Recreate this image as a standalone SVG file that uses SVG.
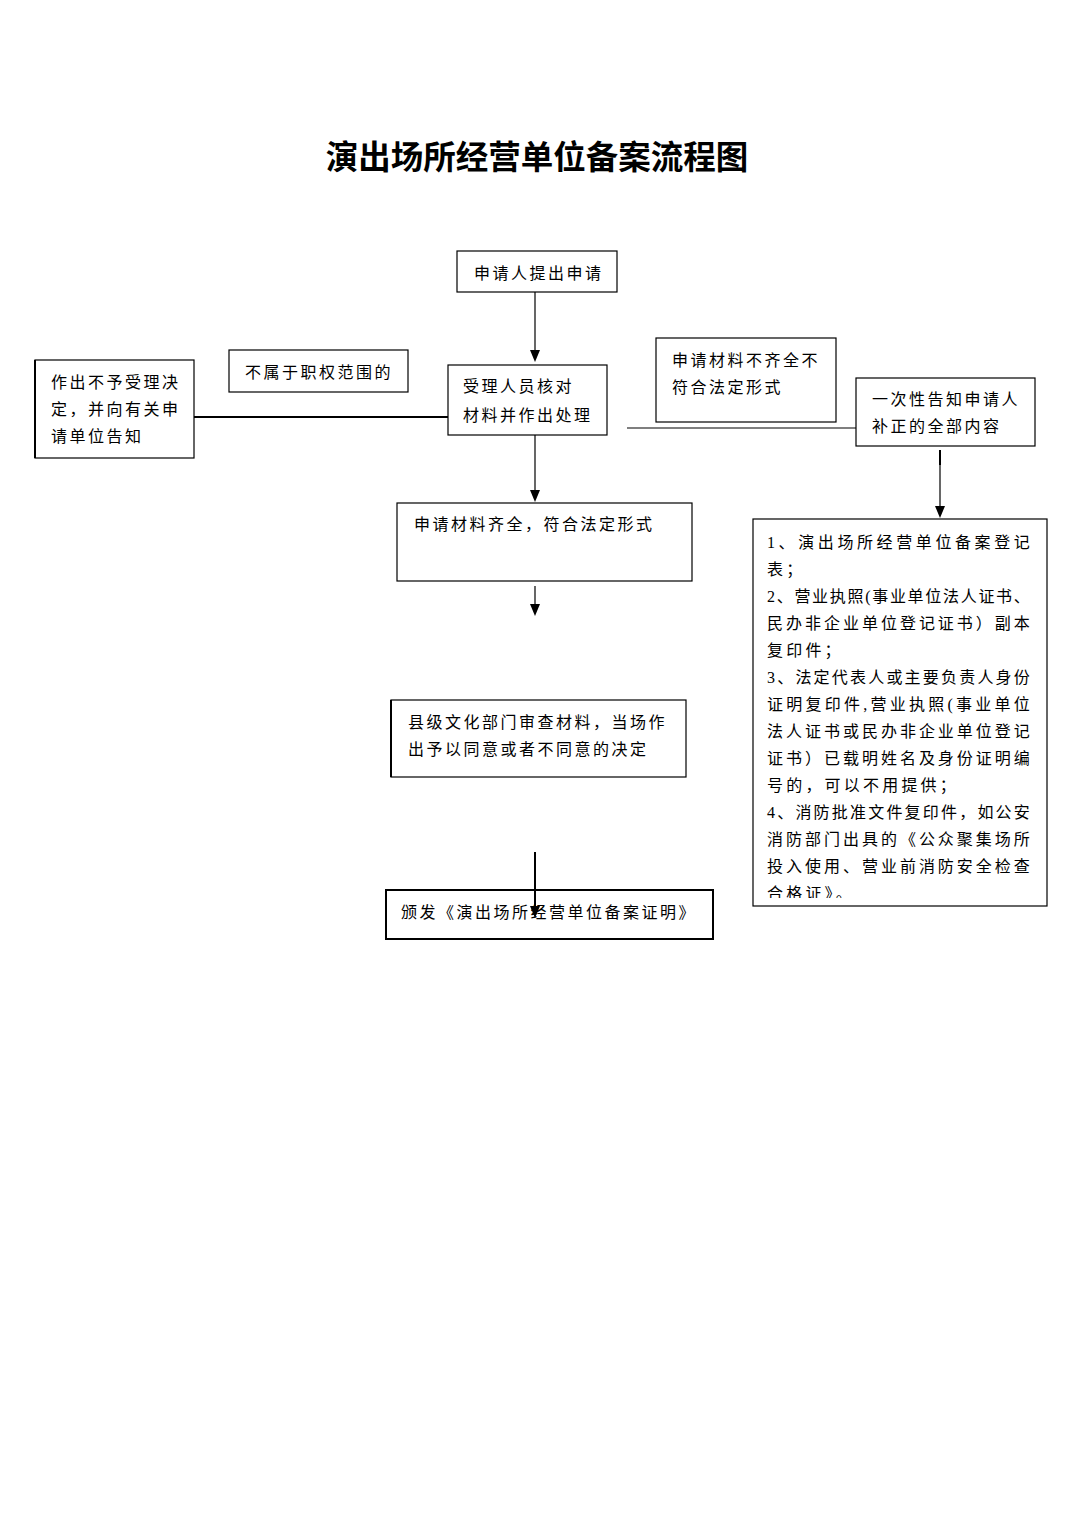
<svg xmlns="http://www.w3.org/2000/svg" width="1075" height="1520" viewBox="0 0 1075 1520">
<style>
.t{font-family:"Liberation Serif","Noto Sans CJK SC",serif;font-size:16px;letter-spacing:2.5px;fill:#000}
.l{font-family:"Liberation Serif","Noto Sans CJK SC",serif;font-size:16px;letter-spacing:3.2px;fill:#000}
.b{fill:#fff;stroke:#000;stroke-width:1.2}
.c{stroke:#000;stroke-width:1.2;fill:none}
.title{font-family:"Noto Sans CJK SC","Liberation Sans",sans-serif;font-size:32.5px;font-weight:bold;fill:#000}
</style>
<defs>
<clipPath id="clipList"><rect x="753" y="519" width="294" height="379"/></clipPath>
</defs>
<rect width="1075" height="1520" fill="#fff"/>
<text class="title" x="537" y="169" text-anchor="middle">演出场所经营单位备案流程图</text>

<g id="connectors">
<line class="c" x1="535" y1="292" x2="535" y2="350"/>
<path d="M530,350 L540,350 L535,362 Z"/>
<line x1="194" y1="417" x2="448" y2="417" stroke="#000" stroke-width="2"/>
<line class="c" x1="627" y1="428" x2="856" y2="428"/>
<line x1="940" y1="450" x2="940" y2="465" stroke="#000" stroke-width="2"/>
<line class="c" x1="940" y1="465" x2="940" y2="506"/>
<path d="M935,506 L945,506 L940,518 Z"/>
<line class="c" x1="535" y1="435" x2="535" y2="490"/>
<path d="M530,490 L540,490 L535,502 Z"/>
<line class="c" x1="535" y1="586" x2="535" y2="606"/>
<path d="M530,604 L540,604 L535,616 Z"/>
</g>

<g id="n1">
<rect class="b" x="457" y="251" width="160" height="41"/>
<text class="t" x="474" y="279">申请人提出申请</text>
</g>
<g id="n2">
<rect class="b" x="448" y="365" width="159" height="70"/>
<text class="t" x="463" y="392">受理人员核对</text>
<text class="t" x="463" y="421">材料并作出处理</text>
</g>
<g id="n3">
<rect class="b" x="229" y="350" width="179" height="42"/>
<text class="t" x="245" y="378">不属于职权范围的</text>
</g>
<g id="n4">
<rect class="b" x="35" y="360" width="159" height="98"/>
<line x1="35" y1="360" x2="35" y2="458" stroke="#000" stroke-width="2"/>
<text class="t" x="51" y="388">作出不予受理决</text>
<text class="t" x="51" y="415">定，并向有关申</text>
<text class="t" x="51" y="442">请单位告知</text>
</g>
<g id="n5">
<rect class="b" x="656" y="338" width="180" height="84"/>
<text class="t" x="672" y="366">申请材料不齐全不</text>
<text class="t" x="672" y="393">符合法定形式</text>
</g>
<g id="n6">
<rect class="b" x="856" y="378" width="179" height="68"/>
<text class="t" x="872" y="405">一次性告知申请人</text>
<text class="t" x="872" y="432">补正的全部内容</text>
</g>
<g id="n7">
<rect class="b" x="753" y="519" width="294" height="387"/>
<g clip-path="url(#clipList)">
<text class="l" x="767" y="548" textLength="266" lengthAdjust="spacing">1、演出场所经营单位备案登记</text>
<text class="l" x="767" y="575">表；</text>
<text class="l" x="767" y="602" textLength="266" lengthAdjust="spacing">2、营业执照(事业单位法人证书、</text>
<text class="l" x="767" y="629" textLength="266" lengthAdjust="spacing">民办非企业单位登记证书）副本</text>
<text class="l" x="767" y="656">复印件；</text>
<text class="l" x="767" y="683" textLength="266" lengthAdjust="spacing">3、法定代表人或主要负责人身份</text>
<text class="l" x="767" y="710" textLength="266" lengthAdjust="spacing">证明复印件,营业执照(事业单位</text>
<text class="l" x="767" y="737" textLength="266" lengthAdjust="spacing">法人证书或民办非企业单位登记</text>
<text class="l" x="767" y="764" textLength="266" lengthAdjust="spacing">证书）已载明姓名及身份证明编</text>
<text class="l" x="767" y="791">号的，可以不用提供；</text>
<text class="l" x="767" y="818" textLength="266" lengthAdjust="spacing">4、消防批准文件复印件，如公安</text>
<text class="l" x="767" y="845" textLength="266" lengthAdjust="spacing">消防部门出具的《公众聚集场所</text>
<text class="l" x="767" y="872" textLength="266" lengthAdjust="spacing">投入使用、营业前消防安全检查</text>
<text class="l" x="767" y="899">合格证》。</text>
</g>
</g>
<g id="n8">
<rect class="b" x="397" y="503" width="295" height="78"/>
<text class="t" x="414" y="530">申请材料齐全，符合法定形式</text>
</g>
<g id="n9">
<rect class="b" x="391" y="700" width="295" height="77"/>
<line x1="391" y1="700" x2="391" y2="777" stroke="#000" stroke-width="2"/>
<text class="t" x="408" y="728">县级文化部门审查材料，当场作</text>
<text class="t" x="408" y="755">出予以同意或者不同意的决定</text>
</g>
<g id="n10">
<rect x="386" y="890" width="327" height="49" fill="#fff" stroke="#000" stroke-width="2"/>
<text class="t" x="401" y="918">颁发《演出场所经营单位备案证明》</text>
</g>
<g id="connectors-top">
<line x1="535" y1="852" x2="535" y2="908" stroke="#000" stroke-width="2"/>
<path d="M530,906 L540,906 L535,918 Z"/>
</g>
</svg>
